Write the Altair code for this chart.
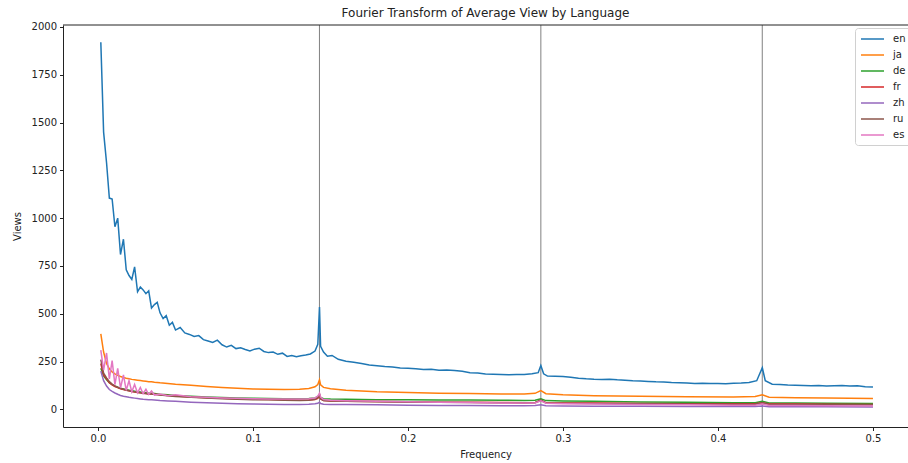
import altair as alt
import pandas as pd

# ---------------- data ----------------
languages = ["en", "ja", "de", "fr", "zh", "ru", "es"]
colors = ["#1f77b4", "#ff7f0e", "#2ca02c", "#d62728", "#9467bd", "#8c564b", "#e377c2"]
weekly_freqs = [0.142857, 0.285714, 0.428571]
x_ticks = [0.0, 0.1, 0.2, 0.3, 0.4, 0.5]
y_ticks = [0, 250, 500, 750, 1000, 1250, 1500, 1750, 2000]

freq_en = [0.0018, 0.0036, 0.0055, 0.0073, 0.0091, 0.0109, 0.0127, 0.0145, 0.0164, 0.0182,
           0.0200, 0.0218, 0.0236, 0.0255, 0.0273, 0.0291, 0.0309, 0.0327, 0.0345, 0.0364,
           0.0382, 0.0400, 0.042, 0.044, 0.046, 0.048, 0.050, 0.053, 0.056, 0.059,
           0.062, 0.065, 0.068, 0.071, 0.074, 0.077, 0.080, 0.083, 0.086, 0.089,
           0.092, 0.095, 0.098, 0.101, 0.104, 0.107, 0.110, 0.113, 0.116, 0.119,
           0.122, 0.125, 0.128, 0.131, 0.134, 0.137, 0.1400, 0.1418, 0.1429, 0.1436,
           0.1455, 0.148, 0.151, 0.155, 0.160, 0.165, 0.170, 0.175, 0.180, 0.185,
           0.190, 0.195, 0.200, 0.205, 0.210, 0.215, 0.220, 0.225, 0.230, 0.235,
           0.240, 0.245, 0.250, 0.255, 0.260, 0.265, 0.270, 0.275, 0.280, 0.2840,
           0.2857, 0.2875, 0.290, 0.295, 0.300, 0.305, 0.310, 0.315, 0.320, 0.325,
           0.330, 0.335, 0.340, 0.345, 0.350, 0.355, 0.360, 0.365, 0.370, 0.375,
           0.380, 0.385, 0.390, 0.395, 0.400, 0.405, 0.410, 0.415, 0.420, 0.425,
           0.4286, 0.4305, 0.435, 0.440, 0.445, 0.450, 0.455, 0.460, 0.465, 0.470,
           0.475, 0.480, 0.485, 0.490, 0.495, 0.500]
en = [1920, 1450, 1290, 1105, 1100, 955, 1000, 810, 890, 730,
      700, 680, 745, 615, 640, 625, 605, 620, 530, 548,
      560, 505, 475, 490, 440, 455, 415, 428, 400, 392,
      381, 386, 365, 358, 350, 362, 338, 326, 335, 318,
      322, 313, 306, 315, 320, 303, 297, 300, 288, 294,
      277, 282, 276, 280, 284, 290, 305, 340, 535, 330,
      300, 278, 282, 262, 252, 246, 240, 232, 228, 224,
      222, 217, 215, 212, 209, 210, 205, 206, 203, 200,
      192, 190, 185, 184, 183, 181, 183, 182, 186, 192,
      230, 186, 174, 173, 172, 168, 163, 160, 158, 157,
      158, 155, 153, 150, 148, 146, 144, 143, 141, 140,
      138, 136, 137, 135, 136, 134, 137, 138, 141, 150,
      218, 150, 132, 130, 127, 126, 125, 124, 125, 123,
      124, 125, 122, 124, 118, 117]

freq_low = [0.0018, 0.0036, 0.0055, 0.0073, 0.0091, 0.0109, 0.0127, 0.0145, 0.0164, 0.0182,
            0.0200, 0.0218, 0.0236, 0.0255, 0.0273, 0.0291, 0.0309, 0.0327, 0.0345, 0.0364,
            0.040, 0.045, 0.050, 0.060, 0.070, 0.080, 0.090, 0.100, 0.110, 0.120,
            0.130, 0.136, 0.140, 0.1418, 0.1429, 0.1436, 0.1455, 0.150, 0.160, 0.180,
            0.200, 0.220, 0.240, 0.260, 0.275, 0.282, 0.2857, 0.289, 0.300, 0.320,
            0.350, 0.380, 0.410, 0.424, 0.4286, 0.433, 0.450, 0.470, 0.500]
ja = [395, 300, 240, 212, 196, 186, 178, 172, 167, 163,
      160, 157, 155, 153, 151, 149, 147, 145, 144, 142,
      139, 136, 132, 126, 120, 115, 111, 107, 105, 104,
      105, 109, 118, 130, 155, 128, 115, 108, 100, 92,
      88, 85, 83, 81, 81, 84, 98, 82, 76, 72,
      69, 66, 65, 67, 77, 64, 61, 59, 57]
de = [215, 175, 155, 140, 130, 122, 116, 111, 107, 103,
      100, 97, 95, 93, 91, 89, 87, 85, 84, 83,
      79, 76, 73, 69, 65, 62, 60, 58, 57, 56,
      56, 57, 60, 66, 78, 62, 56, 54, 53, 51,
      50, 49, 49, 48, 47, 48, 56, 46, 44, 42,
      39, 37, 35, 35, 42, 34, 33, 32, 31]
fr = [240, 180, 160, 139, 128, 120, 114, 108, 104, 100,
      97, 94, 91, 89, 87, 85, 83, 81, 80, 79,
      76, 73, 70, 65, 61, 58, 55, 53, 52, 50,
      48, 49, 52, 58, 72, 55, 47, 44, 42, 41,
      40, 38, 37, 36, 35, 36, 46, 35, 34, 33,
      31, 30, 29, 29, 35, 28, 28, 27, 26]
zh = [200, 150, 122, 104, 94, 86, 79, 73, 69, 66,
      63, 61, 59, 57, 55, 53, 52, 51, 50, 49,
      46, 44, 42, 38, 35, 32, 30, 28, 27, 26,
      26, 27, 29, 32, 38, 31, 27, 26, 25, 24,
      22, 21, 20, 19, 19, 20, 24, 19, 18, 17,
      16, 15, 15, 15, 18, 14, 14, 14, 13]
ru = [260, 190, 165, 145, 132, 123, 116, 110, 105, 101,
      98, 95, 92, 89, 87, 85, 83, 81, 80, 79,
      75, 72, 68, 63, 59, 56, 53, 51, 50, 48,
      47, 48, 53, 62, 80, 56, 47, 44, 42, 40,
      38, 37, 36, 35, 34, 35, 50, 34, 32, 31,
      29, 28, 27, 27, 36, 26, 25, 25, 24]
es = [310, 205, 295, 160, 255, 130, 215, 112, 180, 100,
      150, 92, 130, 86, 115, 82, 105, 78, 96, 75,
      80, 72, 76, 66, 63, 60, 58, 56, 55, 54,
      54, 56, 60, 70, 85, 65, 52, 48, 45, 42,
      40, 38, 36, 34, 33, 34, 45, 32, 30, 28,
      26, 24, 22, 22, 28, 21, 20, 19, 18]

# ---------------- table ----------------
rows = [{"lang": "en", "freq": f, "views": v} for f, v in zip(freq_en, en)]
low_series = {"ja": ja, "de": de, "fr": fr, "zh": zh, "ru": ru, "es": es}
for name in ["ja", "de", "fr", "zh", "ru", "es"]:
    rows += [{"lang": name, "freq": f, "views": v} for f, v in zip(freq_low, low_series[name])]
df = pd.DataFrame(rows)
rules_df = pd.DataFrame({"freq": weekly_freqs})
top_df = pd.DataFrame({"k": [0]})

x_scale = alt.Scale(domain=[-0.0226, 0.5226], nice=False, zero=False)
y_scale = alt.Scale(domain=[-92, 2010], nice=False, zero=False)

x_enc = alt.X("freq:Q", scale=x_scale,
              axis=alt.Axis(title="Frequency", values=x_ticks, format=".1f"))
y_enc = alt.Y("views:Q", scale=y_scale,
              axis=alt.Axis(title="Views", values=y_ticks, format="d"))
color_enc = alt.Color(
    "lang:N",
    scale=alt.Scale(domain=languages, range=colors),
    sort=languages,
    title=None,
    legend=alt.Legend(orient="none", legendX=792, legendY=3,
                      symbolType="M-1,0L3.6,0", symbolSize=100,
                      symbolStrokeWidth=1.5, symbolFillColor="transparent",
                      labelOffset=21, rowPadding=5, padding=5,
                      strokeColor="#d0d0d0", fillColor="white", cornerRadius=3,
                      labelFont="DejaVu Sans", labelFontSize=10, labelColor="#222"),
)

rules = alt.Chart(rules_df).mark_rule(color="#808080", strokeWidth=1).encode(x=x_enc)
top_spine = alt.Chart(top_df).mark_rule(color="#222", strokeWidth=1).encode(
    y=alt.value(0), x=alt.value(0), x2=alt.value(845))

layers = [rules, top_spine]
for name in languages:
    layers.append(
        alt.Chart(df).transform_filter(alt.datum.lang == name)
        .mark_line(strokeWidth=1.5, clip=True)
        .encode(x=x_enc, y=y_enc, color=color_enc)
    )

chart = (
    alt.layer(*layers)
    .properties(
        width=845, height=402,
        title=alt.Title("Fourier Transform of Average View by Language"),
        autosize=alt.AutoSizeParams(type="none"),
        padding={"left": 63, "top": 25, "right": 0, "bottom": 36},
    )
    .configure_view(strokeWidth=0)
    .configure_axis(
        grid=False, labelFont="DejaVu Sans", labelFontSize=10, labelColor="#222",
        titleFont="DejaVu Sans", titleFontSize=10, titleFontWeight="normal", titleColor="#222",
        tickColor="#222", domainColor="#222", tickSize=3.5, labelPadding=3,
    )
    .configure_axisX(titlePadding=6)
    .configure_axisY(titlePadding=9)
    .configure_title(font="DejaVu Sans", fontSize=12, fontWeight="normal", color="#222", offset=2)
)

chart.save("out.html", embed_options={"renderer": "svg", "actions": False})
